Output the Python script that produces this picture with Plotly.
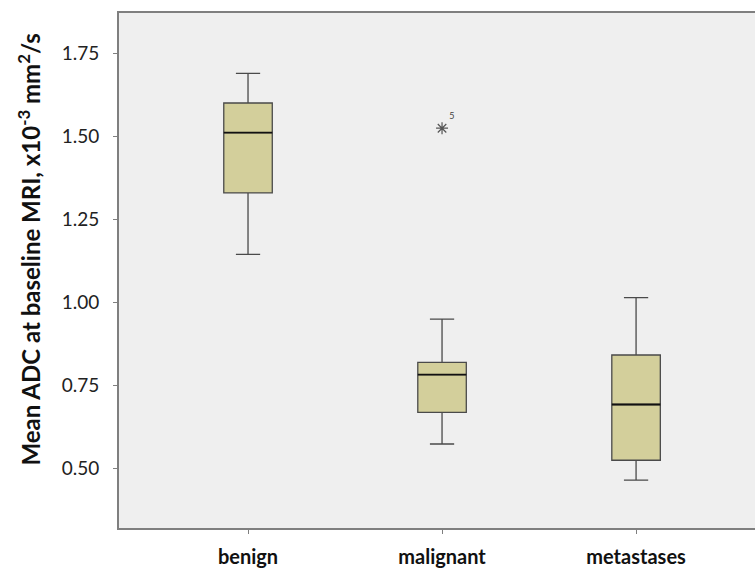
import plotly.graph_objects as go

categories = ["benign", "malignant", "metastases"]
lower_whisker = [1.145, 0.574, 0.465]
q1_values = [1.330, 0.669, 0.525]
medians = [1.512, 0.783, 0.693]
q3_values = [1.601, 0.820, 0.842]
upper_whisker = [1.690, 0.950, 1.015]

outlier_category = ["malignant"]
outlier_values = [1.525]
outlier_labels = ["5"]

y_ticks = [0.50, 0.75, 1.00, 1.25, 1.50, 1.75]
y_tick_text = ["0.50", "0.75", "1.00", "1.25", "1.50", "1.75"]

y_title = "Mean ADC at baseline MRI, x10<sup>-3</sup> mm<sup>2</sup>/s"

FONT = "Lato"
fig = go.Figure()

fig.add_trace(go.Box(
    x=categories,
    q1=q1_values,
    median=medians,
    q3=q3_values,
    lowerfence=lower_whisker,
    upperfence=upper_whisker,
    boxpoints=False,
    fillcolor="#d3cf9b",
    line=dict(color="#4a4a4a", width=1.3),
    width=0.25,
    whiskerwidth=0.5,
    showlegend=False,
    hoverinfo="skip",
    offsetgroup="a",
))

# darker median line drawn as a flat box at the median
fig.add_trace(go.Box(
    x=categories,
    q1=medians,
    median=medians,
    q3=medians,
    lowerfence=medians,
    upperfence=medians,
    boxpoints=False,
    fillcolor="rgba(0,0,0,0)",
    line=dict(color="#111111", width=1.8),
    width=0.25,
    whiskerwidth=0,
    showlegend=False,
    hoverinfo="skip",
    offsetgroup="a",
))

fig.add_trace(go.Scatter(
    x=outlier_category,
    y=outlier_values,
    mode="markers+text",
    marker=dict(symbol="asterisk-open", size=10, color="#555555",
                line=dict(color="#555555", width=1.2)),
    text=outlier_labels,
    textposition="top right",
    textfont=dict(family=FONT, size=9, color="#444444"),
    showlegend=False,
    hoverinfo="skip",
))

fig.update_layout(
    width=755,
    height=568,
    margin=dict(l=119, r=0, t=13, b=38),
    paper_bgcolor="white",
    plot_bgcolor="#efefef",
    font=dict(family=FONT, color="#222222"),
    boxmode="overlay",
    annotations=[dict(
        text=y_title,
        xref="paper", yref="paper",
        x=-0.142, y=0.54,
        xanchor="center", yanchor="middle",
        textangle=-90,
        showarrow=False,
        font=dict(family=FONT, size=24, color="#111111", weight="bold"),
    )],
)

fig.update_xaxes(
    type="category",
    categoryorder="array",
    categoryarray=categories,
    range=[-0.665, 2.613],
    showline=True,
    linecolor="#7f7f7f",
    linewidth=2,
    mirror=True,
    showgrid=False,
    zeroline=False,
    ticks="outside",
    ticklen=4,
    tickcolor="#7f7f7f",
    tickfont=dict(family=FONT, size=20, color="#111111", weight="bold"),
    ticklabelstandoff=6,
)

fig.update_yaxes(
    range=[0.321, 1.872],
    tickvals=y_ticks,
    ticktext=y_tick_text,
    showline=True,
    linecolor="#7f7f7f",
    linewidth=2,
    showgrid=False,
    zeroline=False,
    ticks="outside",
    ticklen=4,
    tickcolor="#7f7f7f",
    tickfont=dict(family=FONT, size=19, color="#222222"),
    ticklabelstandoff=10,
)

fig.write_html("out.html")
